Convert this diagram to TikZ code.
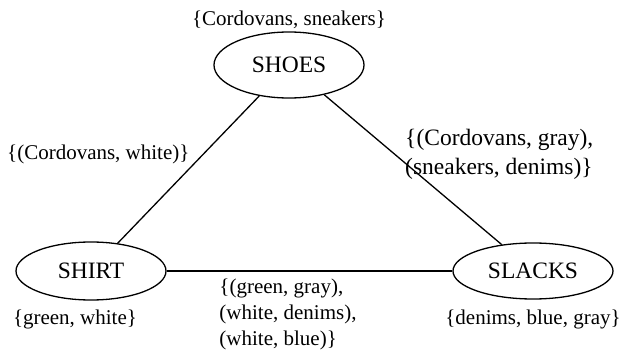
\documentclass[tikz,border=0pt]{standalone}
\usepackage{fontspec}
\setmainfont{Liberation Serif}
\usetikzlibrary{positioning,shapes.geometric}

\begin{document}
\begin{tikzpicture}[x=1pt, y=-1pt, line width=1.3pt,
    every node/.style = {align=left, font=\fontsize{21}{26}\selectfont},
    big/.style = {font=\fontsize{23.5}{29}\selectfont},
    var/.style = {draw, ellipse, inner sep=0pt, big}]
  \useasboundingbox (0,0) rectangle (622,350);
  % the three variables
  \node [var, minimum width=150pt, minimum height=66pt] (shoes) at (289,65) {SHOES};
  \node [var, minimum width=150pt, minimum height=58pt] (shirt) at (91,271) {SHIRT};
  \node [var, minimum width=160pt, minimum height=56pt] (slacks) at (533,271) {SLACKS};
  % domains
  \node [above=-1pt of shoes] (shoesdom) {\{Cordovans, sneakers\}};
  \node [below=5pt of shirt, xshift=-16pt] (shirtdom) {\{green, white\}};
  \node [below=6pt of slacks] (slacksdom) {\{denims, blue, gray\}};
  % constraints
  \draw (shoes) -- (shirt) node [pos=0.38, left, xshift=-12pt, yshift=-3pt] {\{(Cordovans, white)\}};
  \draw (shoes) -- (slacks) node [pos=0.4, right, big, xshift=6pt] {\{(Cordovans, gray),\\(sneakers, denims)\}};
  \draw (shirt) -- (slacks) node [pos=0.15, below right, xshift=6pt, yshift=-4pt] {\{(green, gray),\\(white, denims),\\(white, blue)\}};
\end{tikzpicture}
\end{document}
